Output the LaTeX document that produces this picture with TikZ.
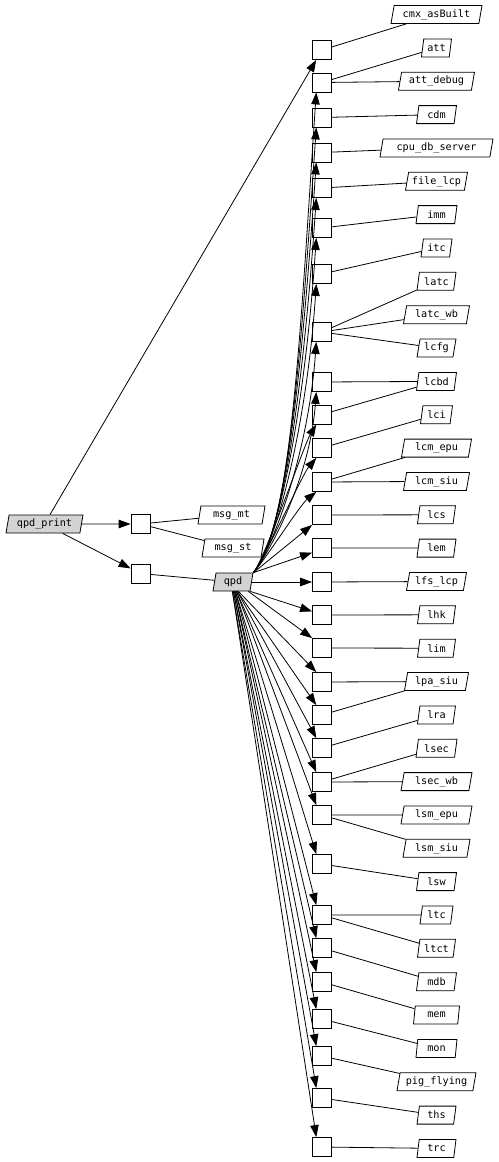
\documentclass[tikz,border=0pt]{standalone}
\usepackage{fontspec}
\newfontfamily\lblfont{DejaVu Sans Mono}
\usetikzlibrary{shapes.geometric,arrows.meta}
\definecolor{nodegray}{RGB}{211,211,211}
\begin{document}
\begin{tikzpicture}[x=1pt,y=-1pt,
  lbl/.style={trapezium, trapezium left angle=73, trapezium right angle=107, trapezium stretches body, draw, fill=white, line width=0.8pt, minimum height=18pt, inner xsep=1pt, inner ysep=0pt, font=\lblfont\fontsize{10.2}{11}\selectfont},
  fn/.style={lbl, fill=nodegray},
  sq/.style={draw, fill=white, line width=0.8pt, minimum size=19pt, inner sep=0pt},
  ln/.style={line width=0.8pt},
  arr/.style={ln, -{Triangle[length=12pt,width=8.5pt]}}]
\useasboundingbox (0,0) rectangle (498,1162);

% left part
\node[fn, minimum width=77pt] (qpdprint) at (44.5,524) {qpd\_print};
\node[sq] (A) at (140.5,524) {};
\node[sq] (B) at (140.5,573.5) {};
\node[lbl, minimum width=67pt] (msgmt) at (231.5,515) {msg\_mt};
\node[lbl, minimum width=62pt] (msgst) at (233,548) {msg\_st};
\node[fn, minimum width=40pt] (qpd) at (233,582) {qpd};

% squares
\node[sq] (S1) at (322,50) {};
\node[sq] (S2) at (322,82.5) {};
\node[sq] (S3) at (322,117.5) {};
\node[sq] (S4) at (322,152.5) {};
\node[sq] (S5) at (322,188) {};
\node[sq] (S6) at (322,228) {};
\node[sq] (S7) at (322,274) {};
\node[sq] (S8) at (322,332) {};
\node[sq] (S9) at (322,382) {};
\node[sq] (S10) at (322,414.5) {};
\node[sq] (S11) at (322,448) {};
\node[sq] (S12) at (322,482) {};
\node[sq] (S13) at (322,515) {};
\node[sq] (S14) at (322,548) {};
\node[sq] (S15) at (322,582) {};
\node[sq] (S16) at (322,615) {};
\node[sq] (S17) at (322,648) {};
\node[sq] (S18) at (322,682) {};
\node[sq] (S19) at (322,715) {};
\node[sq] (S20) at (322,748) {};
\node[sq] (S21) at (322,782) {};
\node[sq] (S22) at (322,815) {};
\node[sq] (S23) at (322,864) {};
\node[sq] (S24) at (322,915) {};
\node[sq] (S25) at (322,948) {};
\node[sq] (S26) at (322,982) {};
\node[sq] (S27) at (322,1019) {};
\node[sq] (S28) at (322,1056) {};
\node[sq] (S29) at (322,1098) {};
\node[sq] (S30) at (322,1147) {};

% labels
\node[lbl, minimum width=91pt] (cmx) at (436.5,14.5) {cmx\_asBuilt};
\node[lbl, minimum width=30pt] (att) at (436.5,47.9) {att};
\node[lbl, minimum width=76pt] (attdebug) at (436.5,81.2) {att\_debug};
\node[lbl, minimum width=40pt] (cdm) at (436.5,114.6) {cdm};
\node[lbl, minimum width=113pt] (cpu) at (436.5,147.9) {cpu\_db\_server};
\node[lbl, minimum width=62pt] (filelcp) at (436.5,181.3) {file\_lcp};
\node[lbl, minimum width=41pt] (imm) at (436.5,214.6) {imm};
\node[lbl, minimum width=31pt] (itc) at (436.5,248) {itc};
\node[lbl, minimum width=39pt] (latc) at (436.5,281.3) {latc};
\node[lbl, minimum width=66pt] (latcwb) at (436.5,314.7) {latc\_wb};
\node[lbl, minimum width=39pt] (lcfg) at (436.5,348) {lcfg};
\node[lbl, minimum width=40pt] (lcbd) at (436.5,381.4) {lcbd};
\node[lbl, minimum width=32pt] (lci) at (436.5,414.7) {lci};
\node[lbl, minimum width=70pt] (lcmepu) at (436.5,448.1) {lcm\_epu};
\node[lbl, minimum width=66pt] (lcmsiu) at (436.5,481.4) {lcm\_siu};
\node[lbl, minimum width=38pt] (lcs) at (436.5,514.8) {lcs};
\node[lbl, minimum width=39pt] (lem) at (436.5,548.1) {lem};
\node[lbl, minimum width=60pt] (lfslcp) at (436.5,581.5) {lfs\_lcp};
\node[lbl, minimum width=38pt] (lhk) at (436.5,614.8) {lhk};
\node[lbl, minimum width=38pt] (lim) at (436.5,648.2) {lim};
\node[lbl, minimum width=64pt] (lpasiu) at (436.5,681.5) {lpa\_siu};
\node[lbl, minimum width=38pt] (lra) at (436.5,714.9) {lra};
\node[lbl, minimum width=41pt] (lsec) at (436.5,748.2) {lsec};
\node[lbl, minimum width=71pt] (lsecwb) at (436.5,781.6) {lsec\_wb};
\node[lbl, minimum width=71pt] (lsmepu) at (436.5,814.9) {lsm\_epu};
\node[lbl, minimum width=67pt] (lsmsiu) at (436.5,848.3) {lsm\_siu};
\node[lbl, minimum width=40pt] (lsw) at (436.5,881.6) {lsw};
\node[lbl, minimum width=33pt] (ltc) at (436.5,915) {ltc};
\node[lbl, minimum width=38pt] (ltct) at (436.5,948.3) {ltct};
\node[lbl, minimum width=40pt] (mdb) at (436.5,981.7) {mdb};
\node[lbl, minimum width=46pt] (mem) at (436.5,1015) {mem};
\node[lbl, minimum width=41pt] (mon) at (436.5,1048.4) {mon};
\node[lbl, minimum width=79pt] (pig) at (436.5,1081.7) {pig\_flying};
\node[lbl, minimum width=39pt] (ths) at (436.5,1115.1) {ths};
\node[lbl, minimum width=39pt] (trc) at (436.5,1148.4) {trc};

% edges from qpd_print
\draw[arr] (qpdprint) -- (S1);
\draw[arr] (qpdprint) -- (A);
\draw[arr] (qpdprint) -- (B);
\draw[ln] (A) -- (msgmt);
\draw[ln] (A) -- (msgst);
\draw[ln] (B) -- (qpd);

% upper fan
\draw[arr] (qpd.top right corner) .. controls (292,528) and (300,332.5) .. (S2.-120);
\draw[arr] (qpd.top right corner) .. controls (289,531) and (301,350) .. (S3.-120);
\draw[arr] (qpd.top right corner) .. controls (286,534) and (302,367.5) .. (S4.-120);
\draw[arr] (qpd.top right corner) .. controls (283,538) and (303.5,385.2) .. (S5.-120);
\draw[arr] (qpd.top right corner) .. controls (279,542) and (305,405.2) .. (S6.-120);
\draw[arr] (qpd.top right corner) .. controls (275.2,547) and (306.5,428.2) .. (S7.-120);
\draw[arr] (qpd.top right corner) .. controls (270.5,552.2) and (308,457.2) .. (S8.-120);
\draw[arr] (qpd.top right corner) .. controls (266.5,556.7) and (309.5,482.2) .. (S9.-120);
\draw[arr] (qpd.top right corner) .. controls (266,556) and (304,445) .. (S10.-120);
\draw[arr] (qpd.top right corner) .. controls (265,558) and (302,475) .. (S11.-120);
\draw[arr] (qpd.top right corner) .. controls (265,560) and (300,505) .. (S12.-120);
% middle
\draw[arr] (qpd.top right corner) -- (S13.-135);
\draw[arr] (qpd.top right corner) -- (S14.-155);
\draw[arr] (qpd.right side) -- (S15.west);
\draw[arr] (qpd.bottom right corner) -- (S16.160);
\draw[arr] ([xshift=-2pt]qpd.bottom right corner) -- (S17.135);
% lower fan
\draw[arr] ([xshift=7pt]qpd.bottom side) -- (S18.120);
\draw[arr] ([xshift=6pt]qpd.bottom side) -- (S19.120);
\draw[arr] ([xshift=6pt]qpd.bottom side) -- (S20.120);
\draw[arr] ([xshift=5pt]qpd.bottom side) -- (S21.120);
\draw[arr] ([xshift=5pt]qpd.bottom side) -- (S22.120);
\draw[arr] ([xshift=4pt]qpd.bottom side) -- (S23.120);
\draw[arr] ([xshift=4pt]qpd.bottom side) -- (S24.120);
\draw[arr] ([xshift=3pt]qpd.bottom side) -- (S25.120);
\draw[arr] ([xshift=3pt]qpd.bottom side) -- (S26.120);
\draw[arr] ([xshift=2pt]qpd.bottom side) -- (S27.120);
\draw[arr] ([xshift=2pt]qpd.bottom side) -- (S28.120);
\draw[arr] ([xshift=1pt]qpd.bottom side) -- (S29.120);
\draw[arr] ([xshift=1pt]qpd.bottom side) -- (S30.120);

% squares to labels
\draw[ln] (S1) -- (cmx);
\draw[ln] (S2) -- (att);
\draw[ln] (S2) -- (attdebug);
\draw[ln] (S3) -- (cdm);
\draw[ln] (S4) -- (cpu);
\draw[ln] (S5) -- (filelcp);
\draw[ln] (S6) -- (imm);
\draw[ln] (S7) -- (itc);
\draw[ln] (S8) -- (latc);
\draw[ln] (S8) -- (latcwb);
\draw[ln] (S8) -- (lcfg);
\draw[ln] (S9) -- (lcbd);
\draw[ln] (S10) -- (lcbd);
\draw[ln] (S11) -- (lci);
\draw[ln] (S12) -- (lcmepu);
\draw[ln] (S12) -- (lcmsiu);
\draw[ln] (S13) -- (lcs);
\draw[ln] (S14) -- (lem);
\draw[ln] (S15) -- (lfslcp);
\draw[ln] (S16) -- (lhk);
\draw[ln] (S17) -- (lim);
\draw[ln] (S18) -- (lpasiu);
\draw[ln] (S19) -- (lpasiu);
\draw[ln] (S20) -- (lra);
\draw[ln] (S21) -- (lsec);
\draw[ln] (S21) -- (lsecwb);
\draw[ln] (S22) -- (lsmepu);
\draw[ln] (S22) -- (lsmsiu);
\draw[ln] (S23) -- (lsw);
\draw[ln] (S24) -- (ltc);
\draw[ln] (S24) -- (ltct);
\draw[ln] (S25) -- (mdb);
\draw[ln] (S26) -- (mem);
\draw[ln] (S27) -- (mon);
\draw[ln] (S28) -- (pig);
\draw[ln] (S29) -- (ths);
\draw[ln] (S30) -- (trc);
\end{tikzpicture}
\end{document}
